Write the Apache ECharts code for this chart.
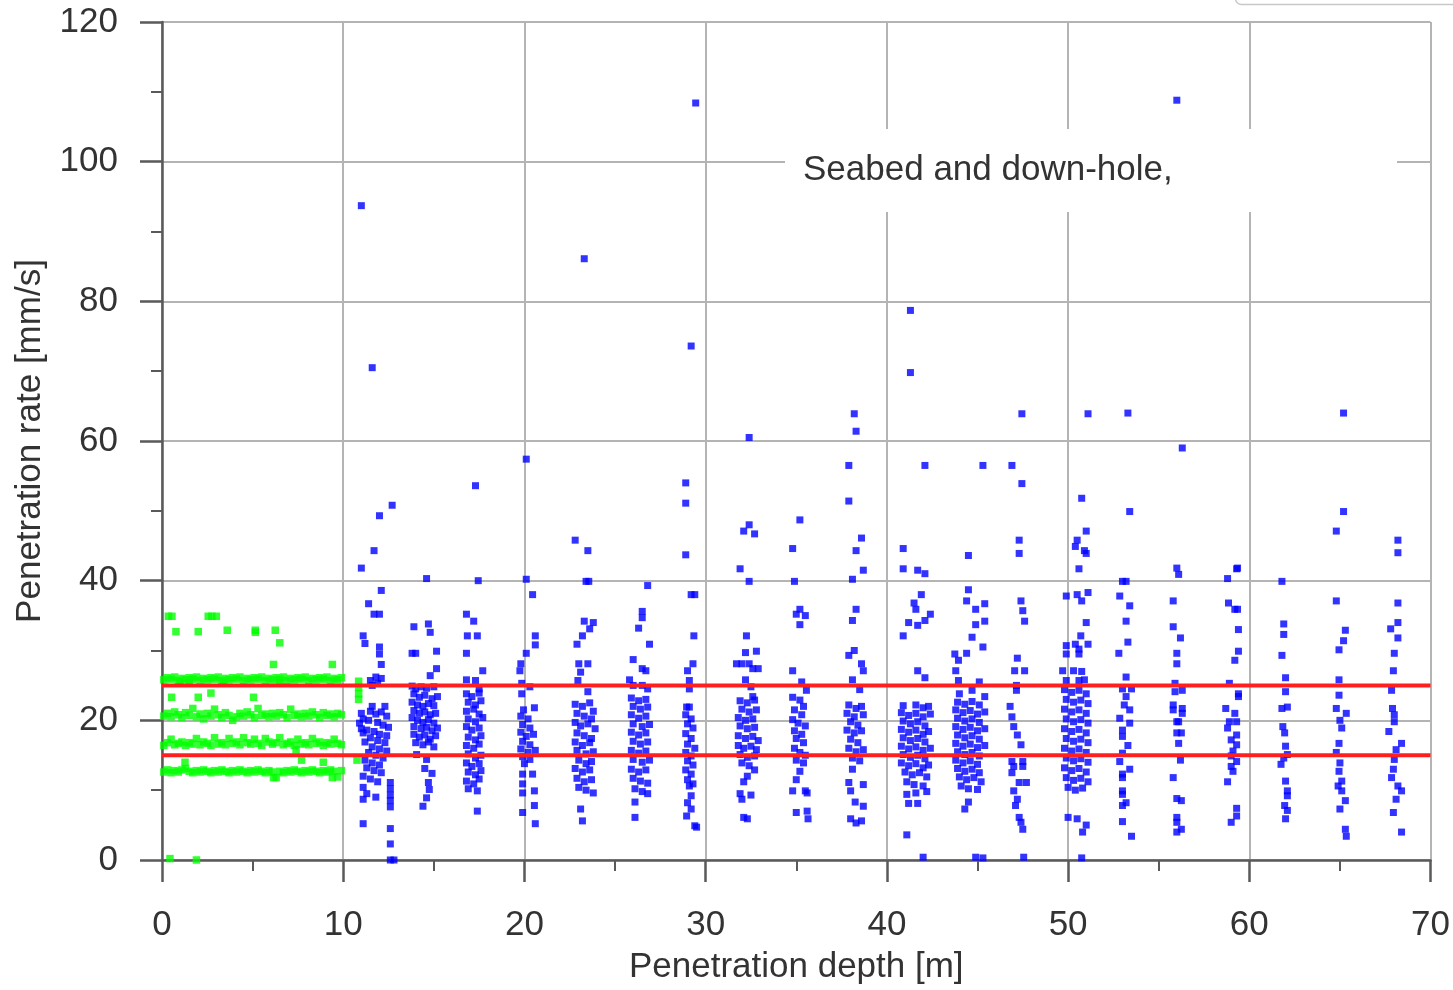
<!DOCTYPE html>
<html><head><meta charset="utf-8">
<script src="https://cdn.jsdelivr.net/npm/echarts/dist/echarts.min.js"></script>
<style>html,body{margin:0;padding:0;background:#fff}#c{width:1453px;height:990px}</style>
</head><body><div id="c"></div><script>
// ---- data ----
const xTicks = [0, 10, 20, 30, 40, 50, 60, 70];
const yTicks = [0, 20, 40, 60, 80, 100, 120];
const redLevels = [15, 25];

// Seabed (green) points: dense rows
const greenDepth = [0.1,0.3,0.5,0.7,0.9,1.1,1.3,1.5,1.7,1.9,2.1,2.3,2.5,2.7,2.9,3.1,3.3,3.5,3.7,3.9,4.1,4.3,4.5,4.7,4.9,5.1,5.3,5.5,5.7,5.9,6.1,6.3,6.5,6.7,6.9,7.1,7.3,7.5,7.7,7.9,8.1,8.3,8.5,8.7,8.9,9.1,9.3,9.5,9.7,9.9];
const greenBandA = [12.6,12.9,12.5,12.8,12.6,12.9,13.1,12.7,12.5,12.8,12.6,12.9,12.7,12.5,12.8,12.6,12.9,12.7,12.5,12.8,12.6,12.9,12.7,12.5,12.8,12.6,12.9,12.7,12.5,12.8,12.6,11.8,12.7,12.5,12.8,12.6,12.9,12.7,12.5,12.8,12.6,12.9,12.7,12.5,12.8,12.6,12.9,12.7,11.9,12.8];
const greenBandB = [16.4,16.8,17.3,16.5,16.7,16.9,16.4,16.8,16.6,17.4,16.5,16.9,16.7,16.4,17.5,16.6,16.8,16.5,17.4,16.7,16.9,16.5,17.5,16.8,16.6,17.3,16.7,16.4,17.4,16.9,16.6,16.8,17.5,16.5,16.7,16.9,16.4,17.3,16.6,16.8,16.5,17.4,16.7,16.9,16.4,16.8,16.6,17.3,16.7,16.5];
const greenBandC = [20.6,21.0,20.5,21.2,20.8,20.4,21.1,20.7,21.7,20.5,20.9,20.2,21.0,20.6,21.6,20.8,20.4,21.1,20.7,20.0,20.5,21.0,20.6,21.2,20.8,20.4,21.7,20.7,20.9,20.5,21.0,20.6,21.1,20.8,20.4,21.6,20.7,20.9,20.5,21.0,20.6,21.2,20.8,20.4,21.1,20.7,20.9,20.5,21.0,20.8];
const greenBandD = [25.8,26.1,25.9,26.2,25.7,26.0,25.8,26.1,25.9,26.2,25.7,26.0,25.8,26.1,25.9,26.2,25.7,26.0,25.8,26.1,25.9,26.2,25.7,26.0,25.8,26.1,25.9,26.2,25.7,26.0,25.8,26.1,25.9,26.2,25.7,26.0,25.8,26.1,25.9,26.2,25.7,26.0,25.8,26.1,25.9,26.2,25.7,26.0,25.8,26.1];
const greenExtra = [[0.35,34.9],[0.55,34.9],[0.77,32.7],[2.0,32.7],[2.55,34.9],[2.75,34.9],[3.0,34.9],[3.6,32.9],[5.15,32.9],[5.15,32.6],[6.25,32.9],[6.5,31.1],[6.15,28.0],[9.4,28.0],[0.53,23.3],[2.0,23.3],[2.7,23.9],[5.05,23.3],[1.0,25.4],[1.5,25.4],[3.4,25.4],[6.5,25.4],[1.27,14.0],[7.7,14.3],[8.9,14.0],[7.4,15.8],[6.15,11.8],[9.4,11.8],[0.44,0.2],[1.9,0.0],[10.85,25.6],[10.85,24.7],[10.85,23.8],[10.85,23.0],[10.76,14.3]];

// Down-hole (blue) points, one array per stroke
const blueC11 = [[11.0,93.7],[11.6,70.5],[12.7,50.8],[12.0,49.3],[11.7,44.3],[11.0,41.8],[12.1,38.6],[11.4,36.7],[11.7,35.2],[12.0,35.2],[11.1,32.1],[11.2,31.0],[12.0,30.5],[12.0,29.5],[12.1,28.0],[11.8,26.2],[11.5,25.7],[11.6,25.0],[12.1,26.0],[11.9,25.3],[11.0,21.0],[11.1,20.2],[10.9,19.6],[11.0,18.8],[11.1,18.2],[11.6,22.0],[12.3,22.0],[11.5,21.3],[11.8,20.9],[12.1,21.2],[12.4,20.6],[11.4,20.0],[11.9,19.7],[12.2,19.3],[12.5,19.0],[11.3,18.6],[11.7,18.4],[12.0,18.0],[12.4,17.8],[11.5,17.5],[11.9,17.1],[12.3,16.8],[11.2,16.9],[11.6,16.2],[12.0,15.9],[12.4,15.6],[11.4,15.4],[11.8,15.0],[12.2,14.6],[11.2,14.3],[11.6,13.9],[12.0,13.6],[11.3,13.2],[11.7,12.8],[12.1,12.5],[11.1,12.0],[11.5,11.6],[11.9,11.2],[11.1,10.4],[11.1,8.7],[11.8,9.0],[11.3,9.5],[12.6,11.1],[12.6,10.2],[12.6,9.3],[12.6,8.5],[12.6,7.6],[11.1,5.2],[12.6,4.5],[12.6,2.3],[12.6,0.0],[12.8,0.0]];
const blueC14 = [[14.6,40.3],[13.9,33.4],[14.7,33.8],[14.8,32.6],[15.15,29.9],[13.8,29.6],[14.0,29.6],[15.15,27.4],[14.8,26.4],[13.8,24.9],[14.0,24.5],[14.3,24.8],[14.6,24.6],[15.0,24.8],[13.9,23.8],[14.2,23.3],[14.5,23.6],[14.9,23.1],[15.2,23.4],[13.8,22.6],[14.1,22.2],[14.4,22.0],[14.7,22.4],[15.0,22.1],[13.9,21.4],[14.2,21.0],[14.5,21.2],[14.8,20.8],[15.1,21.0],[13.8,20.4],[14.1,20.0],[14.4,19.7],[14.7,20.1],[15.0,19.6],[13.9,19.1],[14.3,18.8],[14.6,19.0],[14.9,18.5],[15.2,18.9],[13.9,18.0],[14.2,17.6],[14.5,17.9],[14.8,17.3],[15.1,17.8],[14.0,16.8],[14.4,16.5],[14.7,16.9],[15.0,16.2],[14.05,15.1],[14.6,14.4],[14.5,13.1],[14.9,12.4],[14.7,11.1],[14.75,10.1],[14.6,8.9],[14.4,7.7]];
const blueC17 = [[17.3,53.6],[17.45,40.0],[16.8,35.2],[17.2,34.2],[16.85,32.1],[17.4,32.1],[16.8,29.6],[17.7,27.1],[16.8,25.8],[17.3,25.7],[17.5,24.5],[16.8,23.8],[17.1,23.4],[17.5,23.9],[16.9,22.6],[17.3,22.2],[17.6,22.8],[16.8,21.3],[17.2,21.6],[17.5,20.9],[16.9,20.2],[17.3,19.8],[17.7,20.4],[16.8,19.1],[17.1,18.6],[17.5,18.9],[16.9,17.6],[17.3,17.2],[17.6,17.8],[16.8,16.4],[17.2,16.0],[17.5,16.6],[16.9,15.2],[17.3,14.6],[17.6,15.0],[16.8,13.9],[17.1,13.4],[17.5,13.8],[16.9,12.6],[17.3,12.2],[17.6,12.8],[16.8,11.3],[17.2,10.9],[17.5,11.6],[16.9,10.2],[17.4,9.9],[17.4,7.0]];
const blueC20 = [[20.1,57.4],[20.1,40.2],[20.45,38.0],[20.6,32.1],[20.6,30.8],[20.1,29.6],[19.8,28.1],[19.75,27.1],[19.85,25.3],[20.3,24.8],[19.85,23.8],[20.55,21.8],[19.95,21.5],[19.8,20.6],[20.2,20.2],[19.9,19.4],[20.3,18.9],[19.8,18.3],[20.1,17.7],[20.5,18.0],[19.9,17.0],[20.3,16.5],[19.8,15.9],[20.2,15.4],[20.6,15.7],[19.9,14.8],[20.3,14.4],[20.0,13.8],[19.9,12.3],[20.45,12.3],[19.9,10.9],[20.55,9.9],[19.9,9.6],[20.55,7.8],[19.9,6.8],[20.6,5.2]];
const blueC23 = [[23.3,86.1],[22.8,45.8],[23.5,44.3],[23.4,39.9],[23.55,39.9],[23.3,34.2],[23.8,34.0],[23.6,33.1],[23.2,32.1],[22.9,30.9],[23.0,28.1],[23.5,28.1],[23.1,26.9],[22.95,25.7],[23.5,24.1],[22.8,22.3],[23.2,22.0],[23.6,22.5],[23.8,21.3],[22.9,21.0],[23.3,20.6],[23.7,20.2],[22.8,19.7],[23.1,19.2],[23.5,19.5],[23.9,18.8],[22.9,18.2],[23.3,17.8],[23.7,17.4],[22.8,16.9],[23.2,16.4],[23.6,16.8],[22.9,15.7],[23.4,15.2],[23.8,15.5],[23.0,14.3],[23.4,13.8],[23.7,14.1],[22.8,13.1],[23.2,12.6],[23.6,12.9],[22.9,11.7],[23.3,11.2],[23.7,11.5],[23.0,10.4],[23.4,10.0],[23.8,9.6],[23.1,7.3],[23.2,5.6]];
const blueC26 = [[26.8,39.3],[26.5,35.6],[26.5,34.7],[26.3,33.2],[26.9,30.9],[26.0,28.7],[26.5,27.4],[26.7,27.1],[25.8,25.8],[26.0,25.0],[26.5,25.0],[26.8,24.5],[25.9,23.2],[26.3,22.8],[26.7,23.0],[26.0,22.0],[26.4,21.6],[26.8,21.9],[25.9,20.8],[26.3,20.3],[26.7,20.6],[26.0,19.5],[26.5,19.1],[26.9,19.4],[25.9,18.3],[26.3,17.9],[26.7,18.2],[26.0,17.0],[26.4,16.6],[26.8,16.9],[25.9,15.7],[26.3,15.3],[26.7,15.6],[26.0,14.4],[26.5,14.0],[26.9,14.3],[25.9,13.0],[26.3,12.6],[26.7,12.9],[26.0,11.7],[26.4,11.3],[26.8,11.0],[26.1,10.2],[26.5,9.8],[26.8,9.5],[26.1,8.3],[26.1,6.1]];
const blueC29 = [[29.45,108.4],[29.2,73.6],[28.9,54.0],[28.9,51.1],[28.9,43.7],[29.2,38.0],[29.4,38.0],[29.35,32.1],[29.0,27.1],[29.3,28.1],[29.1,25.7],[29.1,24.5],[28.95,21.9],[29.1,21.9],[28.9,20.8],[29.2,20.2],[29.0,19.5],[29.3,18.9],[28.9,18.1],[29.2,17.4],[29.0,16.6],[29.4,16.0],[28.9,15.4],[29.2,14.9],[29.0,14.2],[29.3,13.6],[28.9,12.9],[29.2,12.3],[29.0,11.5],[29.3,10.9],[29.1,10.6],[29.2,9.2],[29.0,8.2],[29.2,7.3],[28.95,6.3],[29.4,4.9],[29.5,4.7]];
const blueC32 = [[32.4,60.5],[32.4,48.0],[32.1,47.1],[32.7,46.7],[31.9,41.7],[32.4,39.9],[32.25,32.1],[32.2,29.7],[32.8,29.9],[31.7,28.1],[32.0,28.1],[32.4,28.1],[32.6,27.4],[32.9,27.4],[32.2,25.8],[32.5,24.8],[32.6,23.4],[31.9,22.8],[32.3,22.5],[32.7,22.9],[32.0,21.6],[32.4,21.2],[32.8,21.5],[31.8,20.4],[32.2,20.0],[32.6,20.2],[31.9,19.2],[32.3,18.8],[32.7,19.0],[31.8,17.8],[32.2,17.4],[32.6,17.7],[32.9,17.1],[31.8,16.4],[32.1,16.0],[32.5,16.3],[32.8,15.8],[31.9,15.1],[32.3,14.7],[32.7,14.9],[32.0,13.9],[32.4,13.5],[32.7,12.9],[32.3,12.0],[32.1,11.2],[31.9,9.5],[32.0,8.7],[32.5,9.3],[32.1,6.1],[32.3,5.9]];
const blueC35 = [[35.2,48.7],[34.8,44.6],[34.9,39.9],[35.2,35.9],[35.0,35.2],[35.5,35.0],[35.2,33.7],[34.8,27.1],[35.3,25.5],[35.56,24.3],[34.8,23.3],[35.2,22.9],[35.4,22.0],[34.9,21.5],[35.3,20.8],[34.8,20.1],[35.1,19.6],[35.5,19.2],[34.9,18.5],[35.3,18.0],[35.0,17.4],[35.4,16.8],[34.9,16.0],[35.2,15.4],[35.5,15.0],[35.0,14.3],[35.4,13.9],[35.2,12.7],[35.0,11.5],[34.8,9.9],[35.5,9.9],[35.6,9.6],[35.0,6.8],[35.6,7.0],[35.65,5.9]];
const blueC38 = [[38.2,63.9],[38.3,61.4],[37.9,56.5],[37.9,51.4],[38.6,46.1],[38.3,44.3],[38.7,41.5],[38.1,40.2],[38.3,35.9],[38.1,34.3],[37.9,29.3],[38.2,30.0],[38.6,28.1],[38.7,27.1],[38.1,25.8],[38.5,24.4],[37.9,22.2],[38.3,21.7],[38.6,22.0],[37.8,21.0],[38.2,20.5],[38.7,20.8],[38.0,19.8],[38.4,19.3],[37.8,18.6],[38.2,18.2],[38.6,18.5],[38.0,17.3],[38.4,16.8],[37.9,16.0],[38.3,15.5],[38.7,15.8],[38.1,14.6],[38.5,14.2],[38.1,13.0],[37.9,11.1],[38.0,9.9],[38.7,10.8],[38.25,8.3],[38.7,7.7],[38.0,5.9],[38.3,5.3],[38.6,5.6]];
const blueC41 = [[41.3,78.7],[41.3,69.8],[42.1,56.5],[40.9,44.6],[40.9,41.7],[41.7,41.5],[42.1,41.0],[41.9,38.0],[41.5,36.8],[41.6,35.9],[42.4,35.2],[42.1,34.3],[41.7,33.6],[41.2,34.0],[40.9,32.1],[41.7,27.1],[42.1,26.1],[40.9,22.1],[41.6,22.2],[42.0,21.8],[42.3,22.0],[40.8,21.1],[41.2,20.7],[41.6,21.0],[42.0,20.5],[42.4,20.9],[40.9,19.9],[41.3,19.5],[41.7,19.8],[42.1,19.2],[40.8,18.7],[41.2,18.3],[41.6,18.6],[42.0,18.0],[42.3,18.4],[40.9,17.5],[41.3,17.1],[41.7,17.4],[42.1,16.9],[40.8,16.3],[41.2,15.9],[41.6,16.2],[42.0,15.7],[42.4,16.0],[40.9,15.1],[41.3,14.7],[41.7,15.0],[42.1,14.5],[40.8,13.9],[41.2,13.5],[41.6,13.8],[42.0,13.2],[42.3,13.6],[41.0,12.6],[41.4,12.2],[41.8,12.5],[42.2,11.9],[41.1,11.2],[41.5,10.8],[42.0,10.6],[41.1,9.4],[41.6,9.6],[42.2,9.8],[41.2,8.1],[41.7,8.1],[41.1,3.6],[42.0,0.4]];
const blueC44 = [[45.3,56.5],[44.5,43.6],[44.5,38.7],[44.4,37.1],[45.4,36.7],[44.9,35.9],[44.9,33.7],[45.4,34.2],[44.7,31.9],[45.3,30.5],[43.75,29.5],[44.4,29.6],[43.95,28.6],[43.8,27.1],[43.95,25.7],[45.1,25.5],[44.0,23.8],[44.7,24.3],[45.4,23.4],[43.9,22.6],[44.3,22.3],[44.7,22.7],[45.1,22.2],[43.8,21.5],[44.2,21.1],[44.6,21.4],[45.0,20.9],[45.4,21.2],[43.9,20.3],[44.3,19.9],[44.7,20.2],[45.1,19.7],[43.8,19.1],[44.2,18.7],[44.6,19.0],[45.0,18.5],[45.4,18.8],[43.9,17.9],[44.3,17.5],[44.7,17.8],[45.1,17.3],[43.8,16.7],[44.2,16.3],[44.6,16.6],[45.0,16.1],[45.4,16.4],[43.9,15.5],[44.3,15.1],[44.7,15.4],[45.1,14.9],[43.8,14.3],[44.2,13.9],[44.6,14.2],[45.0,13.7],[43.9,13.1],[44.3,12.7],[44.7,13.0],[45.1,12.5],[44.0,11.9],[44.4,11.5],[44.8,11.8],[45.2,11.2],[44.1,10.6],[44.5,10.2],[45.0,10.1],[44.3,7.3],[44.5,8.3],[44.9,0.4],[45.3,0.3]];
const blueC47 = [[46.9,56.5],[47.45,63.9],[47.45,53.9],[47.3,45.8],[47.3,43.9],[47.4,37.1],[47.5,35.7],[47.6,34.2],[47.2,28.9],[47.05,27.1],[47.6,27.1],[47.15,25.0],[47.15,24.3],[46.8,22.0],[46.9,20.5],[47.0,19.1],[47.2,17.9],[47.4,16.5],[46.9,14.1],[47.0,13.4],[47.5,14.1],[47.5,13.4],[46.9,12.5],[47.3,11.1],[47.7,11.1],[47.0,9.9],[47.2,8.7],[47.1,7.8],[47.3,6.1],[47.4,5.4],[47.5,4.4],[47.55,0.4]];
const blueC50 = [[51.1,63.9],[50.75,51.8],[51.0,47.1],[50.5,45.8],[50.4,44.9],[50.9,44.3],[51.0,43.9],[50.6,41.7],[49.9,37.8],[50.5,38.0],[51.1,38.3],[50.75,37.1],[51.0,34.0],[50.7,32.1],[51.1,30.9],[49.9,30.7],[50.4,30.9],[50.6,30.2],[49.9,29.5],[50.6,29.5],[49.7,27.1],[50.3,27.1],[50.75,27.0],[49.9,25.7],[50.6,25.7],[50.9,25.8],[49.8,24.4],[50.2,24.0],[50.6,24.3],[51.0,23.8],[49.9,23.0],[50.3,22.6],[50.7,22.9],[51.1,22.4],[49.8,21.6],[50.2,21.2],[50.6,21.5],[51.0,21.0],[49.9,20.2],[50.3,19.8],[50.7,20.1],[51.1,19.6],[49.8,18.8],[50.2,18.4],[50.6,18.7],[51.0,18.2],[49.9,17.4],[50.3,17.0],[50.7,17.3],[51.1,16.8],[49.8,16.0],[50.2,15.6],[50.6,15.9],[51.0,15.4],[49.9,14.6],[50.3,14.2],[50.7,14.5],[51.1,14.0],[49.8,13.2],[50.2,12.8],[50.6,13.1],[51.0,12.6],[49.9,11.8],[50.3,11.4],[50.7,11.7],[51.1,11.2],[50.0,10.4],[50.4,10.0],[50.8,10.3],[50.0,6.1],[50.5,5.9],[51.0,5.0],[50.8,4.0],[50.75,0.3]];
const blueC53 = [[53.3,64.0],[53.4,49.9],[53.0,39.9],[53.2,39.9],[52.85,37.8],[53.4,36.4],[53.2,34.2],[53.3,31.2],[52.8,29.6],[53.2,26.2],[53.0,24.5],[53.5,24.5],[53.2,23.4],[53.1,22.2],[53.4,21.5],[52.85,20.3],[53.4,19.6],[53.0,18.6],[53.0,17.7],[53.3,16.4],[53.0,15.3],[52.85,14.1],[53.4,13.0],[53.0,12.3],[53.0,11.8],[53.0,9.9],[53.0,9.4],[53.2,8.2],[53.0,7.8],[53.0,5.5],[53.5,3.4]];
const blueC56 = [[56.0,108.8],[56.3,59.0],[56.0,41.8],[56.1,40.9],[55.8,37.1],[55.8,33.4],[56.2,31.8],[56.0,29.6],[56.0,28.1],[55.9,25.3],[55.9,24.1],[56.3,24.3],[55.8,22.2],[55.8,21.5],[56.3,21.7],[56.3,21.0],[56.0,19.8],[56.1,19.8],[56.0,18.2],[56.25,18.2],[56.1,16.7],[56.2,14.3],[55.8,11.8],[56.0,8.8],[56.25,8.5],[56.0,6.1],[56.0,5.4],[56.25,4.4],[56.0,4.0]];
const blueC59 = [[59.35,41.8],[58.8,40.3],[59.3,41.7],[58.85,36.8],[59.2,35.9],[59.35,35.9],[59.4,33.0],[59.4,29.9],[59.2,28.6],[58.9,25.3],[59.4,23.8],[59.4,23.4],[58.7,21.7],[59.2,21.0],[58.9,19.8],[59.3,19.8],[58.8,18.9],[59.3,17.9],[59.0,17.2],[59.3,16.5],[59.1,15.6],[59.0,14.9],[59.3,14.1],[59.0,13.4],[59.1,12.7],[58.8,11.2],[59.3,7.4],[59.3,6.3],[59.0,5.4]];
const blueC62 = [[61.8,39.9],[61.9,33.8],[61.9,32.3],[61.8,29.3],[62.0,26.1],[62.0,24.1],[61.8,21.7],[62.1,21.9],[61.85,19.1],[61.95,18.2],[62.0,16.3],[62.1,15.1],[61.9,14.6],[61.75,13.7],[62.0,11.3],[62.1,9.9],[62.1,9.2],[61.95,7.8],[62.1,7.1],[62.0,5.9]];
const blueC65 = [[65.2,64.0],[65.2,49.9],[64.8,47.1],[64.8,37.1],[65.3,32.9],[65.2,31.4],[64.95,30.1],[64.95,25.8],[64.95,23.6],[64.8,21.7],[65.35,21.0],[65.0,20.0],[65.1,18.9],[64.95,16.7],[64.8,15.4],[65.0,13.9],[64.95,12.7],[65.1,11.3],[64.9,10.6],[65.1,9.9],[65.3,8.5],[65.0,7.3],[65.3,4.4],[65.35,3.4]];
const blueC68 = [[68.2,45.8],[68.2,44.0],[68.2,36.8],[67.8,33.1],[68.2,34.0],[68.2,31.8],[68.0,29.6],[67.95,27.1],[67.85,24.3],[67.9,21.7],[68.0,20.8],[68.0,19.8],[67.7,18.4],[68.4,16.7],[68.1,15.8],[68.0,14.4],[67.95,13.0],[67.85,11.8],[68.2,10.6],[68.4,9.9],[68.1,8.7],[67.95,6.8],[68.4,4.0]];

// ---- build ----
const greenData = [];
[greenBandA, greenBandB, greenBandC, greenBandD].forEach(b => b.forEach((v, i) => greenData.push([greenDepth[i], v])));
greenExtra.forEach(p => greenData.push(p));
const blueData = [].concat(blueC11, blueC14, blueC17, blueC20, blueC23, blueC26, blueC29, blueC32, blueC35, blueC38, blueC41, blueC44, blueC47, blueC50, blueC53, blueC56, blueC59, blueC62, blueC65, blueC68);

const FONT = '"Liberation Sans", Arial, sans-serif';
const axisColor = '#5a5a5a';
const chart = echarts.init(document.getElementById('c'), null, {renderer: 'canvas'});
const redSeries = redLevels.map(l => ({
  type: 'line', data: [[xTicks[0], l], [xTicks[xTicks.length - 1], l]],
  symbol: 'none', silent: true, z: 10,
  lineStyle: {color: '#ff1f1f', width: 4}
}));
chart.setOption({
  animation: false,
  backgroundColor: '#ffffff',
  grid: {left: 162, right: 22, top: 22, bottom: 122, containLabel: false},
  xAxis: {
    type: 'value', min: xTicks[0], max: xTicks[xTicks.length - 1], interval: 10,
    name: 'Penetration depth [m]', nameLocation: 'middle', nameGap: 90,
    nameTextStyle: {fontFamily: FONT, fontSize: 35, color: '#333'},
    axisLine: {show: true, onZero: false, lineStyle: {color: axisColor, width: 2.5}},
    axisTick: {show: true, inside: false, length: 22, lineStyle: {color: axisColor, width: 2.5}},
    minorTick: {show: true, splitNumber: 2, length: 11, lineStyle: {color: axisColor, width: 2}},
    splitLine: {show: true, lineStyle: {color: '#b4b4b4', width: 2}},
    axisLabel: {fontFamily: FONT, fontSize: 35, color: '#333', margin: 48}
  },
  yAxis: {
    type: 'value', min: yTicks[0], max: yTicks[yTicks.length - 1], interval: 20,
    name: 'Penetration rate [mm/s]', nameLocation: 'middle', nameGap: 114,
    nameTextStyle: {fontFamily: FONT, fontSize: 35, color: '#333'},
    axisLine: {show: true, onZero: false, lineStyle: {color: axisColor, width: 2.5}},
    axisTick: {show: true, inside: false, length: 22, lineStyle: {color: axisColor, width: 2.5}},
    minorTick: {show: true, splitNumber: 2, length: 11, lineStyle: {color: axisColor, width: 2}},
    splitLine: {show: true, lineStyle: {color: '#b4b4b4', width: 2}},
    axisLabel: {fontFamily: FONT, fontSize: 35, color: '#333', margin: 44}
  },
  series: [
    {type: 'scatter', name: 'Seabed', data: greenData, symbol: 'rect', symbolSize: 7.5,
     itemStyle: {color: '#00ff00'}, z: 3, silent: true},
    {type: 'scatter', name: 'Down-hole', data: blueData, symbol: 'rect', symbolSize: 7,
     itemStyle: {color: '#0000ff'}, z: 4, silent: true}
  ].concat(redSeries),
  graphic: [
    {type: 'rect', left: 785, top: 129, shape: {width: 612, height: 83}, style: {fill: '#ffffff'}, z: 100},
    {type: 'text', left: 803, top: 153, z: 101,
     style: {text: 'Seabed and down-hole,', font: '35px ' + FONT, fill: '#333'}},
    {type: 'rect', left: 1233, top: -30, shape: {width: 260, height: 32, r: 6},
     style: {fill: 'none', stroke: '#c8c8c8', lineWidth: 1.5}, z: 100}
  ]
});
</script></body></html>
